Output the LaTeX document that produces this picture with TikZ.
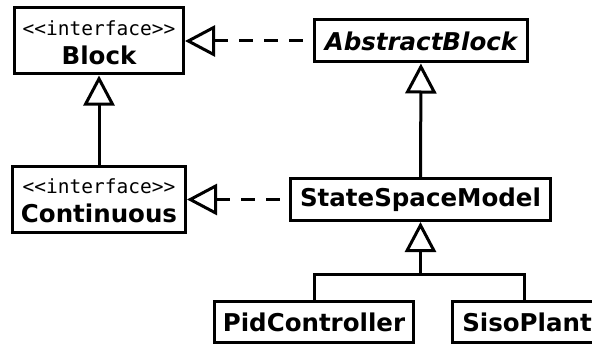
\documentclass[tikz,border=0pt]{standalone}
\usepackage{fontspec}
\setmainfont{DejaVu Sans}
\newfontfamily\monof{DejaVu Sans Mono}
\usetikzlibrary{arrows.meta}
\begin{document}
\begin{tikzpicture}[x=1pt,y=1pt,
  box/.style={draw, line width=3pt, inner sep=0pt, align=center,
    font=\fontsize{24.5}{29}\selectfont\bfseries},
  inhline/.style={line width=3pt, -{Triangle[open,length=30pt,width=31pt]}},
  realline/.style={line width=3pt, {Triangle[open,length=30pt,width=31pt]}-,
    dash pattern=on 13.5pt off 11.5pt}]
\useasboundingbox (0,0) rectangle (592,-345);
\newcommand{\ster}{{\monof\mdseries\fontsize{19.5}{29}\selectfont\rule{0pt}{18pt}<<interface>>}}
\node[box, minimum width=169pt, minimum height=66pt] (block) at (99,-41) {\ster\\Block};
\node[box, minimum width=213pt, minimum height=42pt] (abs) at (421,-41) {\itshape AbstractBlock};
\node[box, minimum width=173pt, minimum height=66pt] (cont) at (99,-199.5) {\ster\\Continuous};
\node[box, minimum width=260pt, minimum height=42pt] (ssm) at (420.5,-199.5) {StateSpaceModel};
\node[box, minimum width=199pt, minimum height=41pt] (pid) at (314,-322) {PidController};
\node[box, minimum width=150pt, minimum height=41pt] (siso) at (527,-322) {SisoPlant};
\coordinate (jn) at (420.5,-274);
\draw[inhline] (cont) -- (block);
\draw[inhline] (ssm) -- (abs);
\draw[realline] (block) -- (abs);
\draw[realline] (cont) -- (ssm);
\draw[inhline] (jn) -- (ssm);
\draw[line width=3pt] (pid.north) |- (jn) -| ([xshift=-3pt]siso.north);
\end{tikzpicture}
\end{document}
